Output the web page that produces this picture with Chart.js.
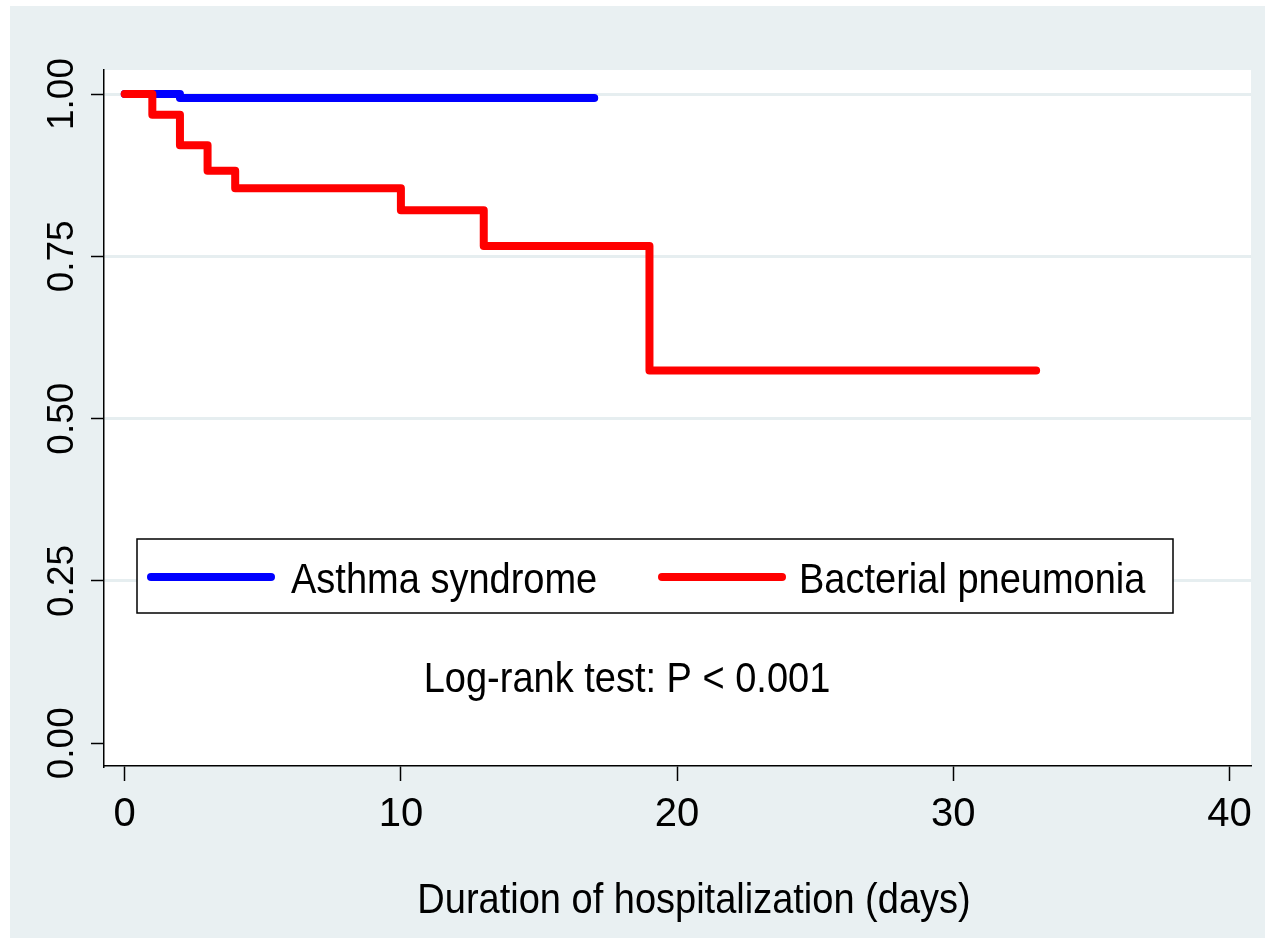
<!DOCTYPE html>
<html>
<head>
<meta charset="utf-8">
<script src="https://cdn.jsdelivr.net/npm/chart.js@4"></script>
<style>
  html, body { margin: 0; padding: 0; background: #fff; }
  #wrap { position: absolute; left: 10px; top: 6px; width: 1255px; height: 932px; background: #e9f0f2; }
</style>
</head>
<body>
<div id="wrap"><canvas id="km"></canvas></div>
<script>
// Kaplan-Meier estimates
var asthmaDays = [0, 2, 17];
var asthmaSurv = [1.0, 0.994, 0.994];
var pneumoniaDays = [0, 1, 2, 3, 4, 10, 13, 19, 33];
var pneumoniaSurv = [1.0, 0.968, 0.921, 0.882, 0.855, 0.821, 0.766, 0.574, 0.574];

var xTicks = [0, 10, 20, 30, 40];
var yTicks = [0, 0.25, 0.5, 0.75, 1];

var seriesNames = ['Asthma syndrome', 'Bacterial pneumonia'];
var seriesColors = ['#0000ff', '#ff0000'];
var xTitle = 'Duration of hospitalization (days)';
var noteText = 'Log-rank test: P < 0.001';

Chart.defaults.font.family = '"Liberation Sans", Arial, sans-serif';
Chart.defaults.color = '#000';

function toPoints(xs, ys) {
    return xs.map(function (x, i) { return { x: x, y: ys[i] }; });
}

// the original graph is slightly stretched vertically, so text is too
function tallText(ctx, text, x, y, align) {
    ctx.save();
    ctx.translate(x, y);
    ctx.scale(1, 1.12);
    ctx.textAlign = align;
    ctx.textBaseline = 'alphabetic';
    ctx.fillText(text, 0, 0);
    ctx.restore();
}

// white plot region + legend box + annotation text
var plotExtras = {
    id: 'plotExtras',
    beforeDraw: function (chart) {
        var ca = chart.chartArea, ctx = chart.ctx;
        ctx.save();
        ctx.fillStyle = '#fff';
        ctx.fillRect(ca.left, ca.top, ca.right - ca.left, ca.bottom - ca.top);
        ctx.restore();
    },
    afterDraw: function (chart) {
        var ca = chart.chartArea, ctx = chart.ctx;
        ctx.save();
        // legend
        var bx = ca.left + 33, by = ca.top + 469, bw = 1036, bh = 74;
        ctx.fillStyle = '#fff';
        ctx.fillRect(bx, by, bw, bh);
        ctx.strokeStyle = '#000';
        ctx.lineWidth = 1.5;
        ctx.strokeRect(bx, by, bw, bh);
        var items = [
            { x0: bx + 14, x1: bx + 134, tx: bx + 154 },
            { x0: bx + 525, x1: bx + 645, tx: bx + 662 }
        ];
        ctx.font = '38px "Liberation Sans", Arial, sans-serif';
        items.forEach(function (it, i) {
            ctx.strokeStyle = seriesColors[i];
            ctx.lineWidth = 8;
            ctx.lineCap = 'round';
            ctx.beginPath();
            ctx.moveTo(it.x0, by + 38);
            ctx.lineTo(it.x1, by + 38);
            ctx.stroke();
            ctx.fillStyle = '#000';
            tallText(ctx, seriesNames[i], it.tx, by + 54, 'left');
        });
        // log-rank note
        tallText(ctx, noteText, ca.left + 523, ca.top + 622, 'center');
        // x axis title
        tallText(ctx, xTitle, ca.left + 590, ca.top + 843, 'center');
        ctx.restore();
    }
};

var ctx = document.getElementById('km').getContext('2d');
var kmChart = new Chart(ctx, {
    type: 'line',
    data: {
        datasets: [{
            label: seriesNames[0],
            data: toPoints(asthmaDays, asthmaSurv),
            borderColor: seriesColors[0],
            order: 1
        }, {
            label: seriesNames[1],
            data: toPoints(pneumoniaDays, pneumoniaSurv),
            borderColor: seriesColors[1],
            order: 0
        }]
    },
    options: {
        responsive: true,
        maintainAspectRatio: false,
        animation: false,
        layout: { padding: { top: 64, right: 14, left: 0, bottom: 0 } },
        elements: {
            line: { borderWidth: 8, stepped: true, borderCapStyle: 'round', borderJoinStyle: 'round', tension: 0 },
            point: { radius: 0 }
        },
        plugins: {
            legend: { display: false },
            tooltip: { enabled: false }
        },
        scales: {
            x: {
                type: 'linear',
                min: -0.75,
                max: 40.78,
                afterBuildTicks: function (scale) {
                    scale.ticks = xTicks.map(function (v) { return { value: v }; });
                },
                afterFit: function (scale) { scale.height = 172; },
                grid: { drawOnChartArea: false, tickLength: 15, tickColor: '#000', tickWidth: 1.5 },
                border: { color: '#000', width: 1.5 },
                ticks: { font: { size: 40 }, padding: 10, maxRotation: 0, color: '#000' }
            },
            y: {
                type: 'linear',
                min: -0.035,
                max: 1.037,
                afterBuildTicks: function (scale) {
                    scale.ticks = yTicks.map(function (v) { return { value: v }; });
                },
                afterFit: function (scale) { scale.width = 94; },
                grid: {
                    color: function (c) { return c.tick && c.tick.value === 0 ? 'rgba(0,0,0,0)' : '#e6eef0'; },
                    lineWidth: 3,
                    tickLength: 13,
                    tickColor: '#000',
                    tickWidth: 1.5
                },
                border: { color: '#000', width: 1.5 },
                ticks: {
                    font: { size: 37 },
                    minRotation: 90,
                    maxRotation: 90,
                    crossAlign: 'center',
                    padding: -8,
                    color: '#000',
                    callback: function (v) { return v.toFixed(2); }
                }
            }
        }
    },
    plugins: [plotExtras]
});
</script>
</body>
</html>
